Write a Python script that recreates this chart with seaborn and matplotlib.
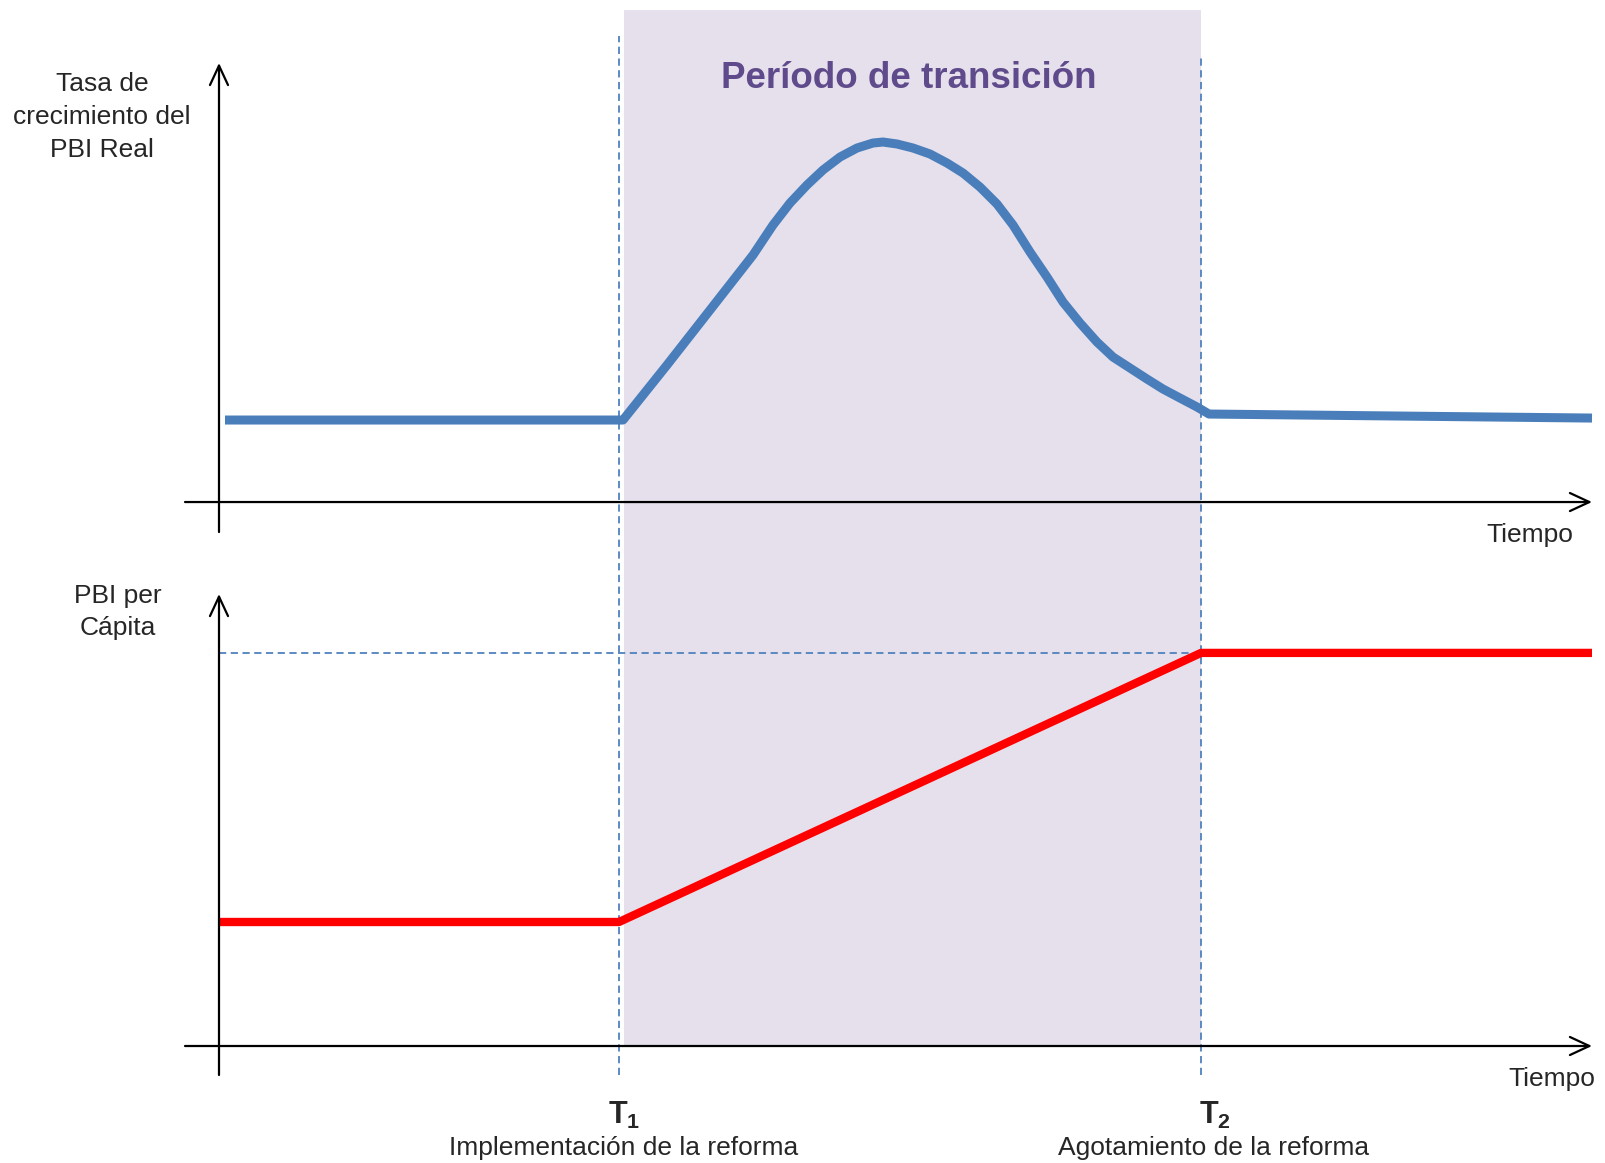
import matplotlib

matplotlib.use("Agg")
import matplotlib.pyplot as plt
import pandas as pd
import seaborn as sns

# time axis (arbitrary units), reform start / end
T1 = 40.0
T2 = 98.2

# real GDP growth rate (top panel)
growth_t = [0.6, 40.4, 44.8, 49.1, 53.4, 55.4, 57.1, 58.8, 60.4, 62.1, 63.8,
            65.4, 66.4, 67.8, 69.4, 71.1, 72.8, 74.4, 76.1, 77.8, 79.4, 81.1,
            82.8, 84.4, 86.1, 87.8, 89.4, 91.1, 92.8, 94.4, 96.1, 97.8, 99.0,
            137.3]
growth_v = [1.000, 1.000, 1.671, 2.341, 3.012, 3.378, 3.646, 3.866, 4.049,
            4.207, 4.317, 4.378, 4.390, 4.366, 4.317, 4.244, 4.134, 4.012,
            3.841, 3.634, 3.378, 3.049, 2.744, 2.439, 2.183, 1.951, 1.768,
            1.634, 1.500, 1.378, 1.268, 1.159, 1.073, 1.024]

# GDP per capita (bottom panel)
pc_t = [0.0, 40.0, 98.2, 137.3]
pc_v = [2.00, 2.00, 6.34, 6.34]

title = "Período de transición"
top_label = "Tasa de\ncrecimiento del\nPBI Real"
bottom_label = "PBI per\nCápita"
x_label = "Tiempo"
t1_desc = "Implementación de la reforma"
t2_desc = "Agotamiento de la reforma"

W, H = 1605, 1163
BLUE = "#4A7EBB"
DASH = "#4F81BD"
SHADE = "#E5E0EC"
PURPLE = "#5F4B8B"


def fx(px):
    return px / W


def fy(py):
    return 1 - py / H


def axis_arrow(ax, start, end):
    ax.annotate(
        "", xy=end, xytext=start,
        arrowprops=dict(arrowstyle="->,head_length=1.4,head_width=0.65",
                        mutation_scale=10, lw=1.6, color="black",
                        shrinkA=0, shrinkB=0),
        annotation_clip=False,
    )


sns.set_theme(style="white")
plt.rcParams["font.family"] = ["Liberation Sans", "DejaVu Sans"]
plt.rcParams["mathtext.fontset"] = "custom"
plt.rcParams["mathtext.rm"] = "Liberation Sans"
plt.rcParams["mathtext.bf"] = "Liberation Sans:bold"

fig = plt.figure(figsize=(W / 100, H / 100), dpi=100)
fig.patch.set_facecolor("white")
xlim = (-21.9, 138.6)

# background: shaded transition period and dashed markers
bg = fig.add_axes([0, 0, 1, 1])
bg.set_xlim(xlim)
bg.set_ylim(0, 1)
bg.axis("off")
bg.axvspan(T1 + 0.5, T2, ymin=fy(1046), ymax=fy(10), color=SHADE, lw=0, zorder=0)
bg.plot([T1, T1], [fy(1075), fy(36)], color=DASH, lw=1.3, ls=(0, (4, 2.5)))
bg.plot([T2, T2], [fy(1075), fy(56)], color=DASH, lw=1.3, ls=(0, (4, 2.5)))

# top panel
ax1 = fig.add_axes([0, fy(540), 1, 540 / H])
ax1.set_xlim(xlim)
ax1.set_ylim(-0.463, 6.122)
ax1.axis("off")
ax1.patch.set_alpha(0)
df_g = pd.DataFrame({"t": growth_t, "v": growth_v})
sns.lineplot(data=df_g, x="t", y="v", ax=ax1, color=BLUE, lw=6.5,
             sort=False, estimator=None, solid_joinstyle="round",
             solid_capstyle="butt")
axis_arrow(ax1, (-3.4, 0), (137.3, 0))
axis_arrow(ax1, (0, -0.366), (0, 5.354))

# bottom panel
ax2 = fig.add_axes([0, 0, 1, 1 - 540 / H])
ax2.set_xlim(xlim)
ax2.set_ylim(-1.887, 8.161)
ax2.axis("off")
ax2.patch.set_alpha(0)
ax2.plot([0, T2], [pc_v[-1], pc_v[-1]], color=DASH, lw=1.3, ls=(0, (4, 2.5)))
df_p = pd.DataFrame({"t": pc_t, "v": pc_v})
sns.lineplot(data=df_p, x="t", y="v", ax=ax2, color="#FF0000", lw=6,
             sort=False, estimator=None, solid_capstyle="butt")
axis_arrow(ax2, (-3.4, 0), (137.3, 0))
axis_arrow(ax2, (0, -0.468), (0, 7.29))

# texts
fig.text(fx(909), fy(79), title, ha="center", va="center", fontsize=26.5,
         fontweight="bold", color=PURPLE)
fig.text(fx(102), fy(117), top_label, ha="center", va="center", fontsize=19,
         linespacing=1.45, multialignment="center")
fig.text(fx(118), fy(612), bottom_label, ha="center", va="center", fontsize=19,
         linespacing=1.45, multialignment="center")
fig.text(fx(1573), fy(535), x_label, ha="right", va="center", fontsize=19)
fig.text(fx(1595), fy(1079), x_label, ha="right", va="center", fontsize=19)
fig.text(fx(624), fy(1115), r"$\mathbf{T_1}$", ha="center", va="center", fontsize=22)
fig.text(fx(1215), fy(1115), r"$\mathbf{T_2}$", ha="center", va="center", fontsize=22)
fig.text(fx(624), fy(1148), t1_desc, ha="center", va="center", fontsize=19)
fig.text(fx(1214), fy(1148), t2_desc, ha="center", va="center", fontsize=19)

fig.savefig("out.png", dpi=100, facecolor="white")
